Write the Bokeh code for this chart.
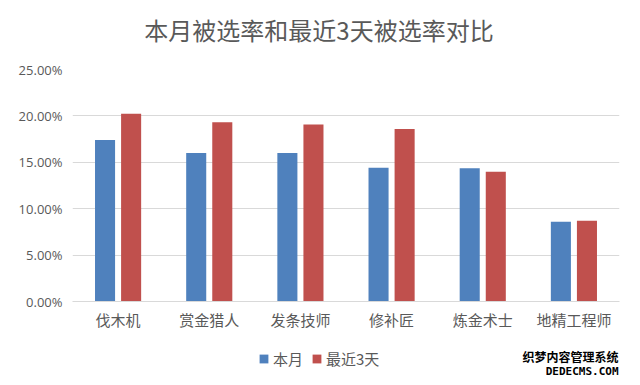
from bokeh.plotting import figure
from bokeh.layouts import column
from bokeh.models import (ColumnDataSource, FactorRange, Range1d, NumeralTickFormatter,
                          Legend, LegendItem, Label, FixedTicker)
from bokeh.transform import dodge
from bokeh.embed import file_html
from bokeh.resources import INLINE

categories = ["伐木机", "赏金猎人", "发条技师", "修补匠", "炼金术士", "地精工程师"]
this_month = [0.1741, 0.1601, 0.1601, 0.1442, 0.1435, 0.0860]
last_3_days = [0.2022, 0.1931, 0.1906, 0.1860, 0.1399, 0.0870]
series_names = ["本月", "最近3天"]
y_ticks = [0.0, 0.05, 0.10, 0.15, 0.20, 0.25]
title_text = "本月被选率和最近3天被选率对比"
watermark = ["织梦内容管理系统", "DEDECMS.COM"]

BLUE = "#4F81BD"
RED = "#C0504D"
GRAY = "#595959"
CJK = "Noto Sans CJK SC"

W = 640
TOP_H, MAIN_H, BOT_H = 50, 285, 50
FRAME_L = 72  # the column aligns every strip's frame with the chart's frame

src = ColumnDataSource(dict(cat=categories, m=this_month, d=last_3_days))

# --- title strip ---
pt = figure(width=W, height=TOP_H, x_range=Range1d(0, 1), y_range=Range1d(0, 1),
            output_backend="svg", toolbar_location=None, x_axis_type=None,
            y_axis_type=None, min_border=0)
pt.outline_line_color = None
pt.add_layout(Label(x=318.5 - FRAME_L, y=TOP_H - 29, x_units="screen", y_units="screen",
                    text=title_text, text_font=CJK, text_font_size="24px",
                    text_color=GRAY, text_align="center", text_baseline="middle"))

# --- main chart ---
p = figure(x_range=FactorRange(*categories), y_range=Range1d(0, y_ticks[-1]),
           width=W, height=MAIN_H, output_backend="svg", toolbar_location=None,
           min_border_left=FRAME_L, min_border_right=21, min_border_top=19,
           min_border_bottom=34)

dx = dict(m=-0.143, d=0.143)
r1 = p.vbar(x=dodge("cat", dx["m"], range=p.x_range), top="m", width=0.22,
            source=src, fill_color=BLUE, line_color=None)
r2 = p.vbar(x=dodge("cat", dx["d"], range=p.x_range), top="d", width=0.22,
            source=src, fill_color=RED, line_color=None)

p.outline_line_color = None
p.xgrid.grid_line_color = None
p.ygrid.grid_line_color = "#d9d9d9"
p.ygrid.grid_line_width = 1

p.yaxis.ticker = FixedTicker(ticks=y_ticks)
p.yaxis.formatter = NumeralTickFormatter(format="0.00%")
p.yaxis.axis_line_color = None
p.yaxis.major_tick_line_color = None
p.yaxis.minor_tick_line_color = None
p.yaxis.major_tick_out = 0
p.yaxis.major_tick_in = 0
p.yaxis.major_label_standoff = 10
p.yaxis.major_label_text_font = "Open Sans"
p.yaxis.major_label_text_font_size = "13px"
p.yaxis.major_label_text_color = GRAY

p.xaxis.axis_line_color = "#d9d9d9"
p.xaxis.major_tick_line_color = None
p.xaxis.major_tick_out = 0
p.xaxis.major_tick_in = 0
p.xaxis.major_label_standoff = 7
p.xaxis.major_label_text_font = CJK
p.xaxis.major_label_text_font_size = "15px"
p.xaxis.major_label_text_color = GRAY

# --- legend strip (legend swatches taken from the same bar glyphs, kept off-range) ---
pb = figure(width=W, height=BOT_H, x_range=FactorRange(*categories),
            y_range=Range1d(1, 2), output_backend="svg", toolbar_location=None,
            x_axis_type=None, y_axis_type=None, min_border=0)
pb.outline_line_color = None
pb.xgrid.visible = False
pb.ygrid.visible = False
l1 = pb.vbar(x=dodge("cat", dx["m"], range=pb.x_range), top="m", width=0.22,
             source=src, fill_color=BLUE, line_color=None)
l2 = pb.vbar(x=dodge("cat", dx["d"], range=pb.x_range), top="d", width=0.22,
             source=src, fill_color=RED, line_color=None)

legend = Legend(items=[LegendItem(label=series_names[0], renderers=[l1]),
                       LegendItem(label=series_names[1], renderers=[l2])],
                orientation="horizontal", location=(258 - FRAME_L, 16),
                glyph_width=11, glyph_height=11, label_standoff=4, spacing=8,
                padding=0, margin=0, border_line_color=None, background_fill_alpha=0,
                label_text_font=CJK, label_text_font_size="15px", label_text_color=GRAY,
                label_height=15)
pb.add_layout(legend, "center")

pb.add_layout(Label(x=618 - FRAME_L, y=BOT_H - 21, x_units="screen", y_units="screen",
                    text=watermark[0], text_font=CJK, text_font_size="12px",
                    text_font_style="bold", text_color="black", text_align="right",
                    text_baseline="middle"))
pb.add_layout(Label(x=618 - FRAME_L, y=BOT_H - 36, x_units="screen", y_units="screen",
                    text=watermark[1], text_font="DejaVu Sans Mono", text_font_size="11px",
                    text_font_style="bold", text_color="black", text_align="right",
                    text_baseline="middle"))

layout = column(pt, p, pb, spacing=0)
open("out.html", "w").write(file_html(layout, INLINE))
